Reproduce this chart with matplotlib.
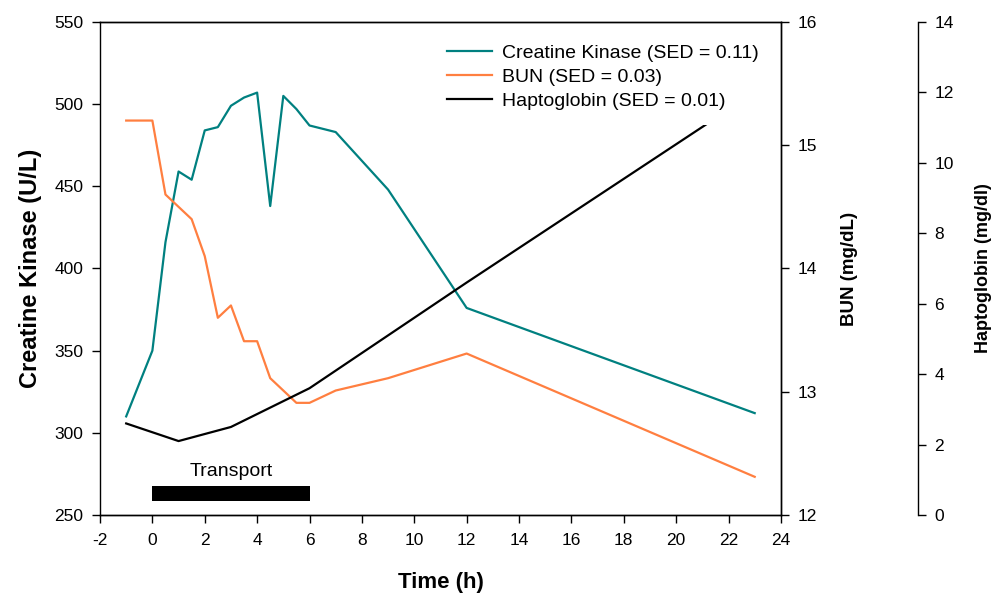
import matplotlib.pyplot as plt
from matplotlib.patches import Rectangle

plt.rcParams['font.family'] = ['Liberation Sans', 'DejaVu Sans']
plt.rcParams['axes.unicode_minus'] = False

# data
ck_time = [-1, 0, 0.5, 1, 1.5, 2, 2.5, 3, 3.5, 4, 4.5, 5, 5.5, 6, 7, 9, 12, 23]
ck_vals = [310, 350, 416, 459, 454, 484, 486, 499, 504, 507, 438, 505, 497, 487, 483, 448, 376, 312]

bun_time = [-1, 0, 0.5, 1.5, 2, 2.5, 3, 3.5, 4, 4.5, 5.5, 6, 7, 9, 12, 23]
bun_vals = [15.2, 15.2, 14.6, 14.4, 14.1, 13.6, 13.7, 13.41, 13.41, 13.11, 12.91, 12.91, 13.01, 13.11, 13.31, 12.31]

hp_time = [-1, 1, 3, 6, 12, 23]
hp_vals = [2.6, 2.1, 2.5, 3.6, 6.6, 12.0]

transport_start = 0
transport_end = 6

teal = '#008080'
orange = '#ff7f40'

fig = plt.figure(figsize=(9.94, 5.93), dpi=100)
ax = fig.add_axes([0.1006, 0.1315, 0.685, 0.8315])
ax2 = ax.twinx()
ax3 = ax.twinx()

l1, = ax.plot(ck_time, ck_vals, color=teal, lw=1.6)
l2, = ax2.plot(bun_time, bun_vals, color=orange, lw=1.6)
l3, = ax3.plot(hp_time, hp_vals, color='black', lw=1.6)

# transport bar
ax.add_patch(Rectangle((transport_start, 258.5), transport_end - transport_start, 9,
                       color='black', lw=0))
ax.text((transport_start + transport_end) / 2, 271.5, 'Transport', ha='center', va='bottom',
        fontsize=14)

ax.set_xlim(-2, 24)
ax.set_xticks(range(-2, 25, 2))
ax.set_ylim(250, 550)
ax.set_yticks(range(250, 551, 50))
ax2.set_ylim(12, 16)
ax2.set_yticks([12, 13, 14, 15, 16])
ax3.set_ylim(0, 14)
ax3.set_yticks(range(0, 15, 2))

ax.set_xlabel('Time (h)', fontsize=16, fontweight='bold', labelpad=17)
ax.set_ylabel('Creatine Kinase (U/L)', fontsize=17, fontweight='bold', labelpad=9)
ax2.set_ylabel('BUN (mg/dL)', fontsize=13.5, fontweight='bold', labelpad=17)
ax3.set_ylabel('Haptoglobin (mg/dl)', fontsize=13, fontweight='bold', labelpad=15)

for a in (ax, ax2, ax3):
    a.tick_params(labelsize=12.5, length=6, width=1, pad=6)
    for s in a.spines.values():
        s.set_linewidth(1)
ax.tick_params(axis='x', pad=7)

ax3.spines['right'].set_position(('axes', 1.201))
ax3.spines['top'].set_visible(False)
ax3.spines['bottom'].set_visible(False)
ax3.spines['left'].set_visible(False)
ax2.spines['left'].set_visible(False)

leg = ax3.legend([l1, l2, l3],
                 ['Creatine Kinase (SED = 0.11)', 'BUN (SED = 0.03)', 'Haptoglobin (SED = 0.01)'],
                 loc='upper right', bbox_to_anchor=(1, 1), fontsize=14,
                 frameon=True, fancybox=False, handlelength=2.3, handletextpad=0.5,
                 labelspacing=0.33, borderpad=0.75, borderaxespad=0.4)
leg.get_frame().set_edgecolor('none')
leg.get_frame().set_facecolor('white')
leg.get_frame().set_alpha(1)

fig.savefig('out.png', dpi=100)
